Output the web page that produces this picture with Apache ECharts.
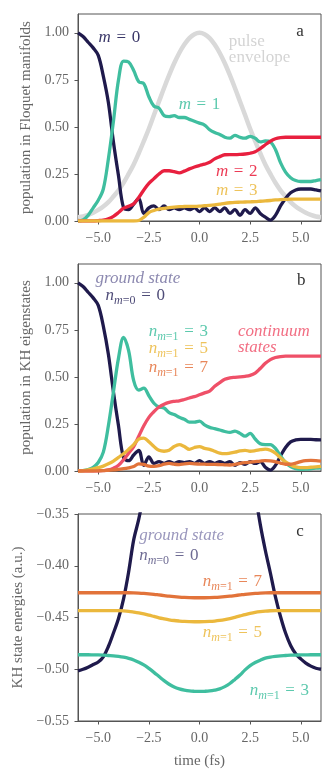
<!DOCTYPE html>
<html>
<head>
<meta charset="utf-8">
<script src="https://cdn.jsdelivr.net/npm/echarts@6/dist/echarts.min.js"></script>
<style>
html, body { margin: 0; padding: 0; background: #fff; }
#main { width: 334px; height: 775px; }
</style>
</head>
<body>
<div id="main"></div>
<script>
// time axis (fs), shared by every curve
const time = [-6, -5.75, -5.5, -5.25, -5, -4.75, -4.5, -4.25, -4, -3.75, -3.5, -3.25, -3, -2.75, -2.5, -2.25,
    -2, -1.75, -1.5, -1.25, -1, -0.75, -0.5, -0.25, 0, 0.25, 0.5, 0.75, 1, 1.25, 1.5, 1.75,
    2, 2.25, 2.5, 2.75, 3, 3.25, 3.5, 3.75, 4, 4.25, 4.5, 4.75, 5, 5.25, 5.5, 5.75, 6]

// panel a : population in Floquet manifolds
const pulseEnvelope = [0.02, 0.024, 0.032, 0.044, 0.059, 0.077, 0.10, 0.13, 0.163, 0.203, 0.25, 0.30, 0.36, 0.424, 0.49, 0.563,
    0.635, 0.707, 0.775, 0.838, 0.893, 0.938, 0.972, 0.993, 1.0, 0.993, 0.972, 0.938, 0.893, 0.838, 0.775, 0.707,
    0.635, 0.563, 0.49, 0.424, 0.36, 0.30, 0.25, 0.203, 0.163, 0.13, 0.10, 0.077, 0.059, 0.044, 0.032, 0.024, 0.02]
const floquetM0 = [1.00, 0.98, 0.95, 0.92, 0.88, 0.77, 0.63, 0.42, 0.24, 0.07, 0.06, 0.09, 0.12, 0.04, 0.07, 0.08,
    0.06, 0.08, 0.06, 0.07, 0.06, 0.07, 0.06, 0.07, 0.05, 0.07, 0.05, 0.07, 0.05, 0.07, 0.04, 0.06,
    0.03, 0.06, 0.04, 0.07, 0.04, 0.02, 0.005, 0.03, 0.08, 0.12, 0.15, 0.165, 0.17, 0.17, 0.17, 0.165, 0.16]
const floquetM1 = [0.00, 0.005, 0.03, 0.07, 0.11, 0.17, 0.33, 0.53, 0.75, 0.85, 0.845, 0.80, 0.74, 0.73, 0.66, 0.61,
    0.60, 0.56, 0.555, 0.56, 0.55, 0.55, 0.54, 0.53, 0.52, 0.51, 0.485, 0.47, 0.46, 0.445, 0.44, 0.455,
    0.445, 0.44, 0.45, 0.44, 0.42, 0.425, 0.42, 0.38, 0.31, 0.26, 0.23, 0.215, 0.21, 0.21, 0.21, 0.215, 0.22]
const floquetM2 = [0, 0, 0, 0, 0.002, 0.005, 0.012, 0.025, 0.045, 0.068, 0.078, 0.092, 0.125, 0.165, 0.20, 0.225,
    0.25, 0.267, 0.267, 0.262, 0.256, 0.265, 0.277, 0.287, 0.295, 0.302, 0.312, 0.33, 0.342, 0.352, 0.353, 0.353,
    0.354, 0.356, 0.36, 0.368, 0.385, 0.405, 0.424, 0.437, 0.443, 0.445, 0.445, 0.445, 0.445, 0.445, 0.445, 0.445, 0.445]
const floquetM3 = [0, 0, 0, 0, 0, 0, 0, 0, 0, 0, 0, 0, 0.003, 0.02, 0.045, 0.056,
    0.063, 0.067, 0.071, 0.074, 0.076, 0.077, 0.078, 0.078, 0.079, 0.081, 0.083, 0.086, 0.09, 0.094, 0.097, 0.099,
    0.10, 0.101, 0.102, 0.103, 0.105, 0.107, 0.109, 0.112, 0.114, 0.115, 0.116, 0.116, 0.116, 0.116, 0.116, 0.116, 0.116]

// panel b : population in KH eigenstates
const khGround = [1.00, 0.98, 0.95, 0.92, 0.88, 0.77, 0.62, 0.42, 0.24, 0.07, 0.055, 0.085, 0.11, 0.03, 0.075, 0.04,
    0.05, 0.04, 0.05, 0.04, 0.05, 0.045, 0.05, 0.04, 0.055, 0.04, 0.05, 0.04, 0.05, 0.04, 0.05, 0.03,
    0.045, 0.035, 0.05, 0.04, 0.05, 0.02, 0.005, 0.03, 0.08, 0.125, 0.155, 0.165, 0.168, 0.168, 0.168, 0.166, 0.165]
const khN3 = [0, 0.002, 0.008, 0.02, 0.045, 0.10, 0.24, 0.42, 0.60, 0.71, 0.64, 0.48, 0.43, 0.44, 0.40, 0.36,
    0.34, 0.335, 0.31, 0.30, 0.285, 0.275, 0.26, 0.26, 0.265, 0.245, 0.232, 0.225, 0.218, 0.21, 0.205, 0.212,
    0.20, 0.185, 0.20, 0.17, 0.145, 0.14, 0.14, 0.12, 0.08, 0.045, 0.023, 0.012, 0.009, 0.01, 0.012, 0.015, 0.017]
const khN5 = [0, 0.002, 0.006, 0.012, 0.018, 0.026, 0.038, 0.053, 0.072, 0.092, 0.115, 0.14, 0.17, 0.175, 0.155, 0.13,
    0.11, 0.105, 0.11, 0.13, 0.14, 0.13, 0.115, 0.125, 0.13, 0.12, 0.115, 0.105, 0.095, 0.092, 0.095, 0.10,
    0.107, 0.11, 0.105, 0.108, 0.113, 0.116, 0.11, 0.095, 0.07, 0.048, 0.032, 0.022, 0.018, 0.018, 0.02, 0.022, 0.025]
const khN7 = [0, 0, 0, 0, 0.001, 0.002, 0.004, 0.006, 0.009, 0.012, 0.017, 0.024, 0.038, 0.035, 0.026, 0.025,
    0.028, 0.036, 0.04, 0.036, 0.034, 0.038, 0.04, 0.038, 0.037, 0.036, 0.035, 0.035, 0.034, 0.033, 0.032, 0.035,
    0.04, 0.044, 0.047, 0.05, 0.053, 0.055, 0.054, 0.049, 0.042, 0.036, 0.036, 0.042, 0.05, 0.055, 0.056, 0.055, 0.053]
const khContinuum = [0, 0, 0, 0, 0, 0.002, 0.006, 0.015, 0.03, 0.06, 0.095, 0.13, 0.185, 0.24, 0.285, 0.315,
    0.34, 0.355, 0.365, 0.37, 0.373, 0.38, 0.388, 0.395, 0.405, 0.415, 0.425, 0.45, 0.47, 0.487, 0.495, 0.498,
    0.50, 0.503, 0.508, 0.52, 0.545, 0.572, 0.592, 0.603, 0.608, 0.61, 0.61, 0.61, 0.61, 0.61, 0.61, 0.61, 0.61]

// panel c : KH state energies (a.u.)
const energyGround = [-0.5015, -0.5, -0.498, -0.4955, -0.493, -0.488, -0.478, -0.465, -0.451, -0.432, -0.406, -0.375, -0.355, -0.33, -0.3, -0.27,
    -0.24, -0.21, -0.18, -0.15, -0.13, -0.11, -0.1, -0.09, -0.085, -0.09, -0.1, -0.11, -0.13, -0.15, -0.18, -0.21,
    -0.24, -0.27, -0.3, -0.33, -0.36, -0.385, -0.407, -0.43, -0.449, -0.465, -0.477, -0.485, -0.49, -0.494, -0.497, -0.499, -0.5]
const energyN7 = [-0.4261, -0.4261, -0.4261, -0.4261, -0.4261, -0.4261, -0.4261, -0.4261, -0.4261, -0.4261, -0.4261, -0.4262, -0.4264, -0.4267, -0.4271, -0.4276,
    -0.4282, -0.4288, -0.4294, -0.4299, -0.4303, -0.4306, -0.4308, -0.4309, -0.4309, -0.4309, -0.4308, -0.4306, -0.4303, -0.4299, -0.4294, -0.4288,
    -0.4282, -0.4276, -0.4271, -0.4267, -0.4264, -0.4262, -0.4261, -0.4261, -0.4261, -0.4261, -0.4261, -0.4261, -0.4261, -0.4261, -0.4261, -0.4261, -0.4261]
const energyN5 = [-0.4434, -0.4434, -0.4434, -0.4434, -0.4434, -0.4434, -0.4434, -0.4434, -0.4434, -0.4436, -0.444, -0.4447, -0.4455, -0.4465, -0.4477, -0.449,
    -0.4503, -0.4513, -0.4522, -0.4529, -0.4534, -0.4538, -0.454, -0.4541, -0.4541, -0.454, -0.4538, -0.4534, -0.4528, -0.452, -0.451, -0.4498,
    -0.4485, -0.4472, -0.446, -0.445, -0.4443, -0.4438, -0.4435, -0.4434, -0.4434, -0.4434, -0.4434, -0.4434, -0.4434, -0.4434, -0.4434, -0.4434, -0.4434]
const energyN3 = [-0.486, -0.486, -0.486, -0.4861, -0.4862, -0.4864, -0.4867, -0.487, -0.4876, -0.4884, -0.4895, -0.491, -0.4932, -0.4958, -0.4992, -0.503,
    -0.507, -0.511, -0.5145, -0.5172, -0.519, -0.5202, -0.521, -0.5213, -0.5214, -0.5213, -0.521, -0.5202, -0.519, -0.5168, -0.5138, -0.5098,
    -0.5055, -0.5006, -0.4965, -0.4935, -0.4912, -0.4893, -0.4882, -0.4875, -0.487, -0.4867, -0.4864, -0.4863, -0.4862, -0.4861, -0.486, -0.486, -0.486]

// tick labels
const xTicks = [-5, -2.5, 0, 2.5, 5]
const popTicks = [0, 0.25, 0.5, 0.75, 1.0]
const energyTicks = [-0.55, -0.5, -0.45, -0.4, -0.35]

// colours / fonts
const SERIF = "'Liberation Serif', 'DejaVu Serif', serif"
const NAVY = '#1f1a4c'
const TEAL = '#3fbe9f'
const RED = '#e8203f'
const GOLD = '#ebb83d'
const GREY = '#d9d9d9'
const PINK = '#ef5068'
const ORANGE = '#e2733a'
const AXIS_COLOR = '#555'
const LABEL_COLOR = '#666'

const SP = '\u2004' // a bit wider than a normal space, like TeX math spacing

const fmt = (v, d) => (v < 0 ? '\u2212' : '') + Math.abs(v).toFixed(d)
const pairs = ys => time.map((t, i) => [t, ys[i]])

const chart = echarts.init(document.getElementById('main'), null, { renderer: 'canvas' })

// one line series
const line = (grid, ys, color, width) => ({
    type: 'line',
    xAxisIndex: grid,
    yAxisIndex: grid,
    data: pairs(ys),
    showSymbol: false,
    smooth: 0.35,
    clip: true,
    silent: true,
    lineStyle: { color: color, width: width || 3.3 },
    itemStyle: { color: color },
})

const xAxis = (grid, withName) => ({
    type: 'value',
    gridIndex: grid,
    min: -6,
    max: 6,
    name: withName ? 'time (fs)' : '',
    nameLocation: 'middle',
    nameGap: 33,
    nameTextStyle: { fontFamily: SERIF, fontSize: 15, color: LABEL_COLOR },
    axisLine: { show: true, onZero: false, lineStyle: { color: AXIS_COLOR, width: 1 } },
    axisTick: { show: true, length: 3.5, customValues: xTicks, lineStyle: { color: AXIS_COLOR } },
    axisLabel: { customValues: xTicks, formatter: v => fmt(v, 1), color: LABEL_COLOR, fontFamily: SERIF, fontSize: 14, margin: 10 },
    splitLine: { show: false },
})

const yAxis = (grid, name, min, max, ticks, digits, gap) => ({
    type: 'value',
    gridIndex: grid,
    min: min,
    max: max,
    name: name,
    nameLocation: 'middle',
    nameGap: gap,
    nameTextStyle: { fontFamily: SERIF, fontSize: 15, color: LABEL_COLOR },
    axisLine: { show: true, onZero: false, lineStyle: { color: AXIS_COLOR, width: 1 } },
    axisTick: { show: true, length: 3.5, customValues: ticks, lineStyle: { color: AXIS_COLOR } },
    axisLabel: { customValues: ticks, formatter: v => fmt(v, digits), color: LABEL_COLOR, fontFamily: SERIF, fontSize: 14, margin: 9 },
    splitLine: { show: false },
})

const gridBox = top => ({
    left: 78, right: 13, top: top, height: 207,
    show: true, borderColor: AXIS_COLOR, borderWidth: 1, backgroundColor: 'transparent',
})

chart.setOption({
    animation: false,
    backgroundColor: '#fff',
    grid: [gridBox(14), gridBox(264), gridBox(514)],
    xAxis: [xAxis(0, false), xAxis(1, false), xAxis(2, true)],
    yAxis: [
        yAxis(0, 'population in Floquet manifolds', 0, 1.1, popTicks, 2, 36),
        yAxis(1, 'population in KH eigenstates', 0, 1.1, popTicks, 2, 36),
        yAxis(2, 'KH state energies (a.u.)', -0.55, -0.35, energyTicks, 2, 52),
    ],
    series: [
        line(0, pulseEnvelope, GREY, 4.5),
        line(0, floquetM0, NAVY),
        line(0, floquetM1, TEAL),
        line(0, floquetM2, RED),
        line(0, floquetM3, GOLD),

        line(1, khGround, NAVY),
        line(1, khN3, TEAL),
        line(1, khContinuum, PINK),
        line(1, khN5, GOLD),
        line(1, khN7, ORANGE),

        line(2, energyGround, NAVY),
        line(2, energyN3, TEAL),
        line(2, energyN5, GOLD),
        line(2, energyN7, ORANGE),
    ],
})

// rich-text styles for the in-plot annotations (math italic + subscripts)
// subscripts are pushed down with a top padding
const rich = {
    it: { fontFamily: SERIF, fontStyle: 'italic', fontSize: 17, lineHeight: 16, verticalAlign: 'top' },
    rm: { fontFamily: SERIF, fontSize: 17, lineHeight: 16, verticalAlign: 'top' },
    si: { fontFamily: SERIF, fontStyle: 'italic', fontSize: 12, lineHeight: 12, verticalAlign: 'top', padding: [8, 0, 0, 0] },
    sr: { fontFamily: SERIF, fontSize: 12, lineHeight: 12, verticalAlign: 'top', padding: [8, 0, 0, 0] },
}
const mLabel = k => `{it|m}{rm|${SP}=${SP}${k}}`
const nLabel = (m, k) => `{it|n}{si|m}{sr|=${m}}{rm|${SP}=${SP}${k}}`

// [grid, x, y (centre of first line, data units), text, colour, align]
const notes = [
    [0, -4.99, 0.975, mLabel(0), '#3a3768'],
    [0, 1.45, 0.954, '{rm|pulse}\n{rm|envelope}', '#d4d4d4'],
    [0, -1.03, 0.62, mLabel(1), '#5cc9ad'],
    [0, 0.81, 0.265, mLabel(2), '#ec3b55'],
    [0, 0.81, 0.164, mLabel(3), '#eec35b'],
    [0, 4.97, 1.007, '{rm|a}', '#333', 'center'],

    [1, -5.14, 1.026, '{it|ground state}', '#8c89b0'],
    [1, -4.64, 0.935, nLabel(0, 0), '#4f4c78'],
    [1, -2.51, 0.746, nLabel(1, 3), '#5cc9ad'],
    [1, -2.51, 0.654, nLabel(1, 5), '#eec35b'],
    [1, -2.51, 0.554, nLabel(1, 7), '#e8875a'],
    [1, 1.9, 0.744, '{it|continuum}\n{it|states}', '#f26e83'],
    [1, 5.02, 1.014, '{rm|b}', '#333', 'center'],

    [2, -2.98, -0.3705, '{it|ground state}', '#9a97bd'],
    [2, -2.98, -0.3898, nLabel(0, 0), '#6e6b93'],
    [2, 0.16, -0.4148, nLabel(1, 7), '#e8875a'],
    [2, 0.16, -0.4643, nLabel(1, 5), '#eec35b'],
    [2, 2.48, -0.5198, nLabel(1, 3), '#5cc9ad'],
    [2, 4.96, -0.3664, '{rm|c}', '#333', 'center'],
]

chart.setOption({
    graphic: notes.map(([g, x, y, text, color, align]) => {
        const p = chart.convertToPixel({ gridIndex: g }, [x, y])
        return {
            type: 'text',
            x: p[0],
            y: p[1] - 8,
            z: 100,
            silent: true,
            style: { text: text, rich: rich, fill: color, align: align || 'left', verticalAlign: 'top', font: '17px ' + SERIF },
        }
    }),
})
</script>
</body>
</html>
